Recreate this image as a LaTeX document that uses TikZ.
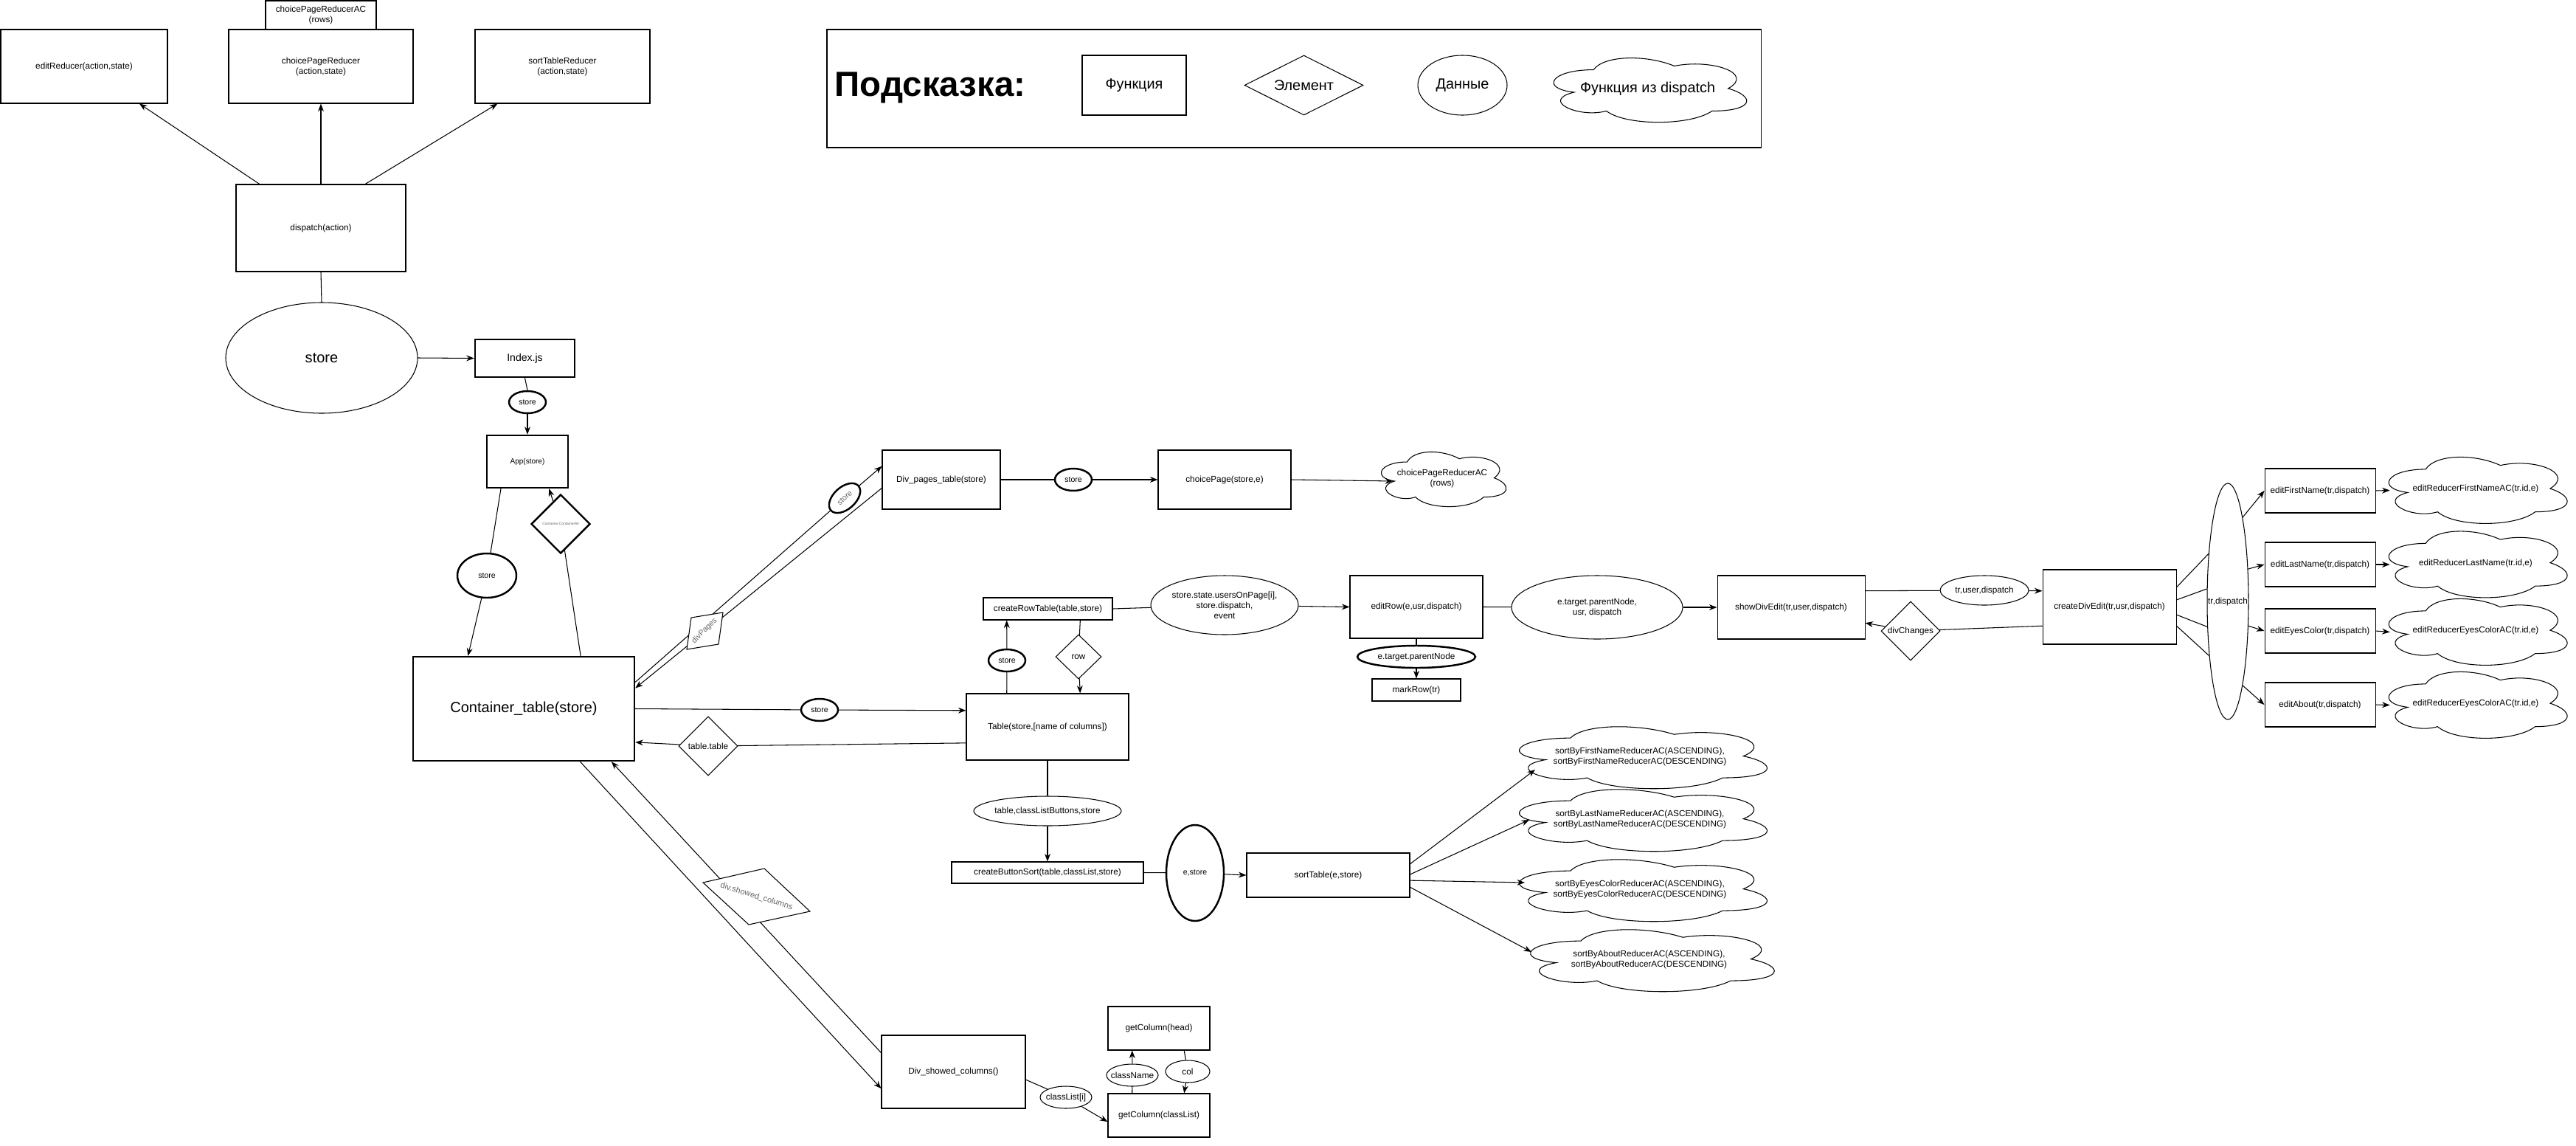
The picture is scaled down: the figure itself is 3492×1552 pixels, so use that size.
\documentclass[tikz,border=0pt]{standalone}
\usepackage{fontspec}
\setmainfont{Liberation Sans}
\usetikzlibrary{shapes.geometric,arrows.meta,calc}
\tikzset{
  every node/.style={font=\fontsize{6.7}{8}\selectfont, inner sep=0pt, align=center},
  sz/.style 2 args={minimum width=#1*0.02cm, minimum height=#2*0.02cm},
  fbox/.style={draw, rectangle, line width=0.6pt},
  tbox/.style={draw, rectangle, line width=1.4pt},
  dat/.style={draw, ellipse, line width=0.6pt, fill=white},
  tdat/.style={draw, ellipse, line width=1.4pt, fill=white, font=\fontsize{6}{7}\selectfont},
  elem/.style={draw, diamond, line width=0.6pt, fill=white},
  et/.style={label={center:#1}},
  con/.style={line width=0.6pt},
  arr/.style={line width=0.6pt, -{Stealth[length=6pt,width=4.5pt]}},
  lbl/.style={text=black!60},
  big/.style={font=\fontsize{11.4}{13.5}\selectfont},
  leg/.style={font=\fontsize{11.3}{13.5}\selectfont},
}
% draw.io style cloud: [opts]{name}{cx}{cy}{w}{h}{text}
\newcommand\drawiocloud[7][]{%
  \node[sz={#5}{#6},#1] (#2) at (#3,#4) {#7};
  \draw[con, shift={(#2.north west)}] ({0.25*#5},{0.25*#6})
    .. controls ({0.05*#5},{0.25*#6}) and (0,{0.5*#6}) .. ({0.16*#5},{0.55*#6})
    .. controls (0,{0.66*#6}) and ({0.18*#5},{0.9*#6}) .. ({0.31*#5},{0.8*#6})
    .. controls ({0.4*#5},#6) and ({0.7*#5},#6) .. ({0.8*#5},{0.8*#6})
    .. controls (#5,{0.8*#6}) and (#5,{0.6*#6}) .. ({0.875*#5},{0.5*#6})
    .. controls (#5,{0.3*#6}) and ({0.8*#5},{0.1*#6}) .. ({0.625*#5},{0.2*#6})
    .. controls ({0.5*#5},{0.05*#6}) and ({0.3*#5},{0.05*#6}) .. ({0.25*#5},{0.25*#6}) -- cycle;
}
\begin{document}
\begin{tikzpicture}[x=0.02cm,y=-0.02cm]
\path[use as bounding box, fill=white] (0,0) rectangle (3492,1552);

% ---------- top: reducers ----------
\node[fbox, sz={226}{100}] (er) at (114,90) {editReducer(action,state)};
\node[fbox, sz={150}{39}] (cprac) at (435,20.5) {choicePageReducerAC\\(rows)};
\node[fbox, sz={250}{100}] (cpr) at (435,90) {choicePageReducer\\(action,state)};
\node[fbox, sz={237}{100}] (str) at (762.5,90) {sortTableReducer\\(action,state)};
\node[fbox, sz={230}{118}] (dsp) at (435,309) {dispatch(action)};
\node[draw, ellipse, line width=0.6pt, sz={260}{150}, big] (sm) at (436,485) {store};
\node[tbox, sz={135}{51}, font=\fontsize{8}{9.6}\selectfont] (idx) at (711.5,485.5) {Index.js};
\node[tdat, sz={50}{30}] (s1) at (715,545) {store};
\node[tbox, sz={110}{71}, font=\fontsize{5.7}{7}\selectfont] (app) at (715,625.5) {App(store)};
\node[tdat, sz={80}{60}] (s2) at (660,780) {store};
\node[elem, line width=1.4pt, sz={80}{80}, font=\fontsize{2.8}{3.4}\selectfont, lbl] (cc) at (760,710) {Container.ContainerAll};
\node[tbox, sz={300}{141}, big] (cont) at (710,960.5) {Container\_table(store)};

\draw[arr] ($(dsp.north west)!0.14!(dsp.north east)$) -- ($(er.south west)!0.83!(er.south east)$);
\draw[arr] (dsp.north) -- (cpr.south);
\draw[arr] ($(dsp.north west)!0.76!(dsp.north east)$) -- ($(str.south west)!0.13!(str.south east)$);
\draw[con] (dsp.south) -- (sm.north);
\draw[arr] (sm.east) -- (idx.west);
\draw[con] (idx.south) -- (s1.north);
\draw[arr] (s1.south) -- (app.north);
\draw[con] ($(app.south west)!0.18!(app.south east)$) -- (s2);
\draw[arr] (s2) -- ($(cont.north west)!0.25!(cont.north east)$);
\draw[con] ($(cont.north west)!0.755!(cont.north east)$) -- (cc);
\draw[arr] (cc) -- ($(app.south west)!0.76!(app.south east)$);

% ---------- pages ----------
\node[fbox, sz={160}{80}] (dpt) at (1276,650) {Div\_pages\_table(store)};
\node[tdat, sz={50}{30}, rotate=42, lbl] (s3) at (1145,675) {store};
\draw[con] ($(cont.north east)!0.248!(cont.south east)$) -- (s3);
\draw[arr] (s3) -- ($(dpt.north west)!0.275!(dpt.south west)$);
\draw[arr] ($(dpt.north west)!0.64!(dpt.south west)$) -- ($(cont.north east)!0.305!(cont.south east)$);
\coordinate (dpc) at (955,855);
\draw[line width=0.6pt, fill=white] ($(dpc)+(-18,-18)$) -- ($(dpc)+(25,-25)$) -- ($(dpc)+(19,18)$) -- ($(dpc)+(-24,25)$) -- cycle;
\node[lbl, rotate=45, font=\fontsize{6}{7}\selectfont] (dp) at (dpc) {divPages};

\node[tdat, sz={50}{30}] (s4) at (1455,650) {store};
\node[fbox, sz={180}{80}] (cp) at (1660,650) {choicePage(store,e)};
\drawiocloud{cl1}{1955}{648}{189}{86.5}{choicePageReducerAC\\(rows)}
\draw[con] (dpt.east) -- (s4);
\draw[arr] (s4) -- (cp.west);
\draw[arr] (cp.east) -- ($(cl1.west)+(28,4)$);

% ---------- table ----------
\node[tdat, sz={50}{30}] (s5) at (1111,962) {store};
\node[elem, sz={80}{80}] (tt) at (960,1011) {table.table};
\node[fbox, sz={220}{90}] (tbl) at (1420,985) {Table(store,[name of columns])};
\node[tdat, sz={50}{30}] (s6) at (1365,895) {store};
\node[elem, sz={62}{60}] (row) at (1462,890) {row};
\node[fbox, sz={175}{30}] (crt) at (1420.5,825) {createRowTable(table,store)};
\node[dat, sz={200}{80}, et={store.state.usersOnPage[i],\\store.dispatch,\\event}] (ev) at (1660,820) {};
\node[fbox, sz={180}{85}] (edr) at (1920,822.5) {editRow(e,usr,dispatch)};
\node[tdat, sz={160}{30}, font=\fontsize{6.7}{8}\selectfont] (etp) at (1920,890) {e.target.parentNode};
\node[fbox, sz={120}{30}] (mr) at (1920,935) {markRow(tr)};
\node[dat, sz={232}{86}] (etp2) at (2165,823) {e.target.parentNode,\\usr, dispatch};
\node[fbox, sz={200}{86}] (sde) at (2428,823) {showDivEdit(tr,user,dispatch)};
\node[dat, sz={120}{40}] (tud) at (2690,800) {tr,user,dispatch};
\node[fbox, sz={181}{101}] (cde) at (2859.5,822.5) {createDivEdit(tr,usr,dispatch)};
\node[elem, sz={80}{80}] (dc) at (2590,855) {divChanges};
\node[dat, sz={56}{320}, et={tr,dispatch}] (trd) at (3020,815) {};

\draw[con] (cont.east) -- (s5);
\draw[arr] (s5) -- ($(tbl.north west)!0.256!(tbl.south west)$);
\draw[con] ($(tbl.north west)!0.74!(tbl.south west)$) -- (tt);
\draw[arr] (tt) -- ($(cont.north east)!0.816!(cont.south east)$);
\draw[con] ($(tbl.north west)!0.25!(tbl.north east)$) -- (s6);
\draw[arr] (s6) -- ($(crt.south west)!0.183!(crt.south east)$);
\draw[con] ($(crt.south west)!0.749!(crt.south east)$) -- (row);
\draw[arr] (row) -- ($(tbl.north west)!0.70!(tbl.north east)$);
\draw[con] (crt.east) -- (ev);
\draw[arr] (ev) -- (edr.west);
\draw[con] (edr.south) -- (etp);
\draw[arr] (etp) -- (mr.north);
\draw[con] (edr.east) -- (etp2);
\draw[arr] (etp2) -- (sde.west);
\draw[con] ($(sde.north east)!0.244!(sde.south east)$) -- (tud);
\draw[arr] (tud) -- ($(cde.north west)!0.287!(cde.south west)$);
\draw[con] ($(cde.north west)!0.752!(cde.south west)$) -- (dc);
\draw[arr] (dc) -- ($(sde.north east)!0.744!(sde.south east)$);
\foreach \f/\a in {0.238/112, 0.406/149, 0.604/231, 0.752/251}
  \draw[con] ($(cde.north east)!\f!(cde.south east)$) -- (trd.\a);

% ---------- edit functions ----------
\node[fbox, sz={150}{60}] (ef) at (3145,665) {editFirstName(tr,dispatch)};
\node[fbox, sz={150}{60}] (el) at (3145,765) {editLastName(tr,dispatch)};
\node[fbox, sz={150}{60}] (ee) at (3145,855) {editEyesColor(tr,dispatch)};
\node[fbox, sz={150}{60}] (ea) at (3145,955) {editAbout(tr,dispatch)};
\drawiocloud{cef}{3356}{662.5}{270}{105}{editReducerFirstNameAC(tr.id,e)}
\drawiocloud{cel}{3356}{763}{270}{105}{editReducerLastName(tr.id,e)}
\drawiocloud{cee}{3356}{854.5}{270}{105}{editReducerEyesColorAC(tr.id,e)}
\drawiocloud{cea}{3356}{953.5}{270}{105}{editReducerEyesColorAC(tr.id,e)}
\draw[arr] (trd.80) -- (ef.west);
\draw[arr] (trd.58) -- (el.west);
\draw[arr] (trd.310) -- (ee.west);
\draw[arr] (trd.280) -- (ea.west);
\draw[arr] (ef.east) -- ($(cef.west)+(19,2)$);
\draw[arr] (el.east) -- ($(cel.west)+(19,2)$);
\draw[arr] (ee.east) -- ($(cee.west)+(19,2)$);
\draw[arr] (ea.east) -- ($(cea.west)+(19,2)$);

% ---------- sorting ----------
\node[dat, sz={200}{40}, et={table,classListButtons,store}] (tcb) at (1420,1099) {};
\node[fbox, sz={260}{29}] (cbs) at (1420,1182.5) {createButtonSort(table,classList,store)};
\node[tdat, sz={78}{130}] (es) at (1620,1183) {e,store};
\node[fbox, sz={221}{60}] (st) at (1800.5,1186) {sortTable(e,store)};
\drawiocloud{sc1}{2223}{1025}{375}{98}{sortByFirstNameReducerAC(ASCENDING),\\sortByFirstNameReducerAC(DESCENDING)}
\drawiocloud{sc2}{2223}{1110}{375}{98}{sortByLastNameReducerAC(ASCENDING),\\sortByLastNameReducerAC(DESCENDING)}
\drawiocloud{sc3}{2223}{1205}{375}{98}{sortByEyesColorReducerAC(ASCENDING),\\sortByEyesColorReducerAC(DESCENDING)}
\drawiocloud{sc4}{2235.5}{1300}{369}{98}{sortByAboutReducerAC(ASCENDING),\\sortByAboutReducerAC(DESCENDING)}
\draw[con] (tbl.south) -- (tcb);
\draw[arr] (tcb) -- (cbs.north);
\draw[con] (cbs.east) -- (es);
\draw[arr] (es) -- (st.west);
\draw[arr] ($(st.north east)!0.25!(st.south east)$) -- ($(sc1.center)+(-142,18)$);
\draw[arr] ($(st.north east)!0.483!(st.south east)$) -- ($(sc2.center)+(-150,1)$);
\draw[arr] ($(st.north east)!0.617!(st.south east)$) -- ($(sc3.center)+(-156,-9)$);
\draw[arr] ($(st.north east)!0.767!(st.south east)$) -- ($(sc4.center)+(-159.5,-10)$);

% ---------- showed columns ----------
\node[fbox, sz={195}{99}] (dsc) at (1292.5,1452.5) {Div\_showed\_columns()};
\node[dat, sz={70}{30}, et={classList[i]}] (cli) at (1445,1487) {};
\node[fbox, sz={138}{59}] (gch) at (1571,1393.5) {getColumn(head)};
\node[fbox, sz={138}{59}] (gcl) at (1571,1511.5) {getColumn(classList)};
\node[dat, sz={70}{30}, et={className}] (cn) at (1535,1457) {};
\node[dat, sz={60}{30}] (col) at (1610,1452) {col};
\draw[arr] ($(cont.south west)!0.753!(cont.south east)$) -- ($(dsc.north west)!0.727!(dsc.south west)$);
\draw[arr] ($(dsc.north west)!0.242!(dsc.south west)$) -- ($(cont.south west)!0.893!(cont.south east)$);
\coordinate (dsp2) at (1025.5,1215);
\draw[line width=0.6pt, fill=white] ($(dsp2)+(-72.5,-19)$) -- ($(dsp2)+(10.5,-38)$) -- ($(dsp2)+(72.5,20)$) -- ($(dsp2)+(-10.5,38)$) -- cycle;
\node[lbl, rotate=-17, font=\fontsize{6.3}{7.5}\selectfont] (dscl) at (dsp2) {div.showed\_columns};
\draw[con] ($(dsc.north east)!0.606!(dsc.south east)$) -- (cli);
\draw[arr] (cli) -- ($(gcl.north west)!0.644!(gcl.south west)$);
\draw[con] ($(gcl.north west)!0.239!(gcl.north east)$) -- (cn);
\draw[arr] (cn) -- ($(gch.south west)!0.239!(gch.south east)$);
\draw[con] ($(gch.south west)!0.746!(gch.south east)$) -- (col);
\draw[arr] (col) -- ($(gcl.north west)!0.746!(gcl.north east)$);

% ---------- legend ----------
\node[fbox, sz={1266}{160}] (lgd) at (1754,120) {};
\node[font=\bfseries\fontsize{27}{32}\selectfont] (hint) at (1261,119) {Подсказка:};
\node[fbox, sz={141}{81}, leg] (lf) at (1537.5,115.5) {Функция};
\node[elem, aspect=2, sz={161}{81}, leg] (le) at (1767.5,115.5) {Элемент};
\node[dat, sz={121}{81}, leg] (ld) at (1982.5,115.5) {Данные};
\drawiocloud[leg]{lc}{2233.5}{120.3}{292}{101.6}{Функция из dispatch}
\end{tikzpicture}
\end{document}
